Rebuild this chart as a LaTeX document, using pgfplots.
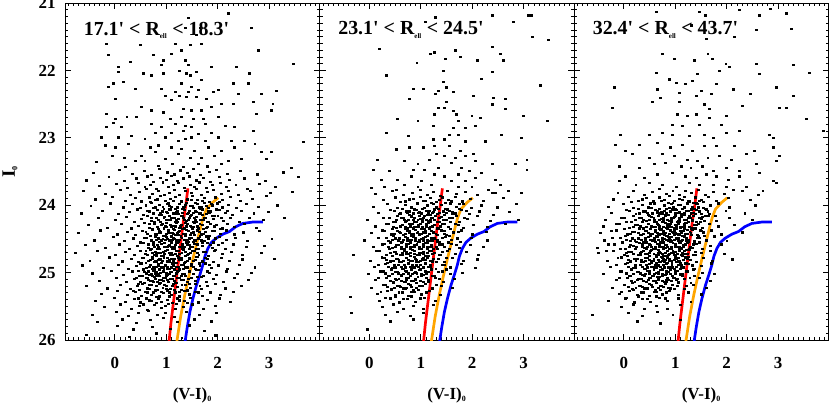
\documentclass[border=0pt]{standalone}
\usepackage{pgfplots}
\pgfplotsset{compat=1.18}
\usepackage{fontspec}
\setmainfont{Liberation Serif}
\definecolor{isored}{RGB}{255,0,0}
\definecolor{isoorange}{RGB}{255,165,0}
\definecolor{isoblue}{RGB}{0,0,255}
\pgfplotsset{
  cmdpanel/.style={
    scale only axis, width=254.5bp, height=337bp, anchor=south west,
    xmin=-0.97, xmax=3.98, ymin=21, ymax=26, y dir=reverse,
    xtick={-1,0,1,2,3,4}, ytick={21,22,23,24,25,26},
    minor x tick num=9, minor y tick num=9,
    major tick length=6bp, minor tick length=3bp,
    tick align=inside, tick pos=both,
    axis line style={line width=0.9bp},
    tick style={black, line width=0.9bp},
    minor tick style={black, line width=0.8bp},
    /pgf/number format/assume math mode=true,
    tick label style={font=\fontsize{17}{17}\selectfont\bfseries},
    xticklabel style={yshift=-14bp},
    yticklabel style={xshift=-6bp},
    xlabel={(V-I)\textsubscript{\fontsize{8}{8}\selectfont 0}},
    xlabel style={at={(axis description cs:0.5,-0.163)}, anchor=center, font=\fontsize{17}{17}\selectfont\bfseries},
    clip=true,
  },
  dots/.style={only marks, mark=square*, mark size=0.75bp, mark options={draw=none, fill=black, xscale=1.3, yscale=0.8}},
  iso/.style={no marks, line width=2.7bp},
}
\newcommand{\isolines}{%
  \addplot[iso, isored] coordinates {(1.42,23.75) (1.38,24.0) (1.33,24.25) (1.29,24.5) (1.25,24.75) (1.21,25.0) (1.17,25.25) (1.13,25.5) (1.09,25.75) (1.05,26.05)};
  \addplot[iso, isoorange] coordinates {(2.01,23.89) (1.90,23.96) (1.78,24.06) (1.72,24.18) (1.68,24.29) (1.60,24.54) (1.52,24.79) (1.44,25.05) (1.36,25.33) (1.28,25.65) (1.20,26.05)};
  \addplot[iso, isoblue] coordinates {(2.88,24.25) (2.68,24.25) (2.49,24.27) (2.35,24.32) (2.23,24.39) (2.10,24.43) (1.97,24.49) (1.88,24.55) (1.81,24.64) (1.75,24.76) (1.71,24.89) (1.65,25.04) (1.59,25.18) (1.52,25.38) (1.46,25.58) (1.41,25.80) (1.36,26.05)};
}
\newcommand{\pr}{\textquotesingle}
\begin{document}
\begin{tikzpicture}
\path[use as bounding box] (0,0) rectangle (830bp,409bp);
% ---------------- Panel 1 ----------------
\begin{axis}[cmdpanel, at={(65bp,69bp)},
  ylabel={I\textsubscript{\fontsize{8}{8}\selectfont 0}},
  ylabel style={at={(axis description cs:-0.216,0.5)}, rotate=0, anchor=center, font=\fontsize{19}{19}\selectfont\bfseries}]
\addplot[dots] coordinates {
(2.20,21.15) (1.42,21.22) (2.65,21.37) (1.36,21.37) (1.65,21.37) (1.59,21.47) (-0.16,21.60) (0.49,21.62) (1.17,21.60) (1.68,21.60)
(1.46,21.62) (1.29,21.70) (1.10,21.75) (-0.13,21.77) (0.74,21.77) (2.78,21.70) (0.94,21.85) (0.91,21.92) (1.36,21.85) (0.29,21.87)
(0.06,21.95) (1.88,21.95) (2.36,21.94) (3.46,21.90) (0.06,22.02) (1.42,21.92) (1.26,22.00) (1.39,22.04) (1.46,22.07) (1.59,22.02)
(0.71,22.07) (0.94,22.04) (0.55,22.04) (1.68,22.14) (1.29,22.19) (-0.03,22.19) (0.16,22.17) (2.62,22.04) (2.59,22.19) (2.30,22.19)
(-0.13,22.24) (0.39,22.27) (0.91,22.27) (1.49,22.24) (1.42,22.32) (1.62,22.29) (1.17,22.32) (1.91,22.32) (2.01,22.29) (2.39,22.34)
(2.85,22.34) (3.14,22.30) (0.97,22.37) (1.26,22.37) (1.39,22.39) (0.00,22.42) (1.10,22.44) (1.59,22.39) (1.78,22.42) (2.30,22.49)
(2.69,22.47) (3.07,22.49) (3.04,22.59) (-0.16,22.64) (0.23,22.69) (0.52,22.54) (0.71,22.59) (0.94,22.62) (1.33,22.57) (1.49,22.59)
(1.68,22.59) (1.88,22.54) (2.07,22.49) (0.00,22.72) (0.42,22.69) (1.07,22.72) (1.29,22.69) (1.52,22.72) (1.72,22.72) (2.01,22.69)
(2.75,22.64) (-0.03,22.77) (-0.16,22.84) (0.13,22.84) (0.71,22.79) (0.91,22.84) (1.17,22.79) (1.36,22.82) (1.49,22.84) (1.75,22.79)
(2.14,22.82) (2.33,22.84) (0.78,22.92) (1.10,22.92) (1.33,22.89) (1.62,22.94) (1.88,22.92) (2.69,22.89) (-0.26,22.99) (0.06,22.99)
(0.32,22.97) (0.58,23.01) (0.97,22.99) (1.23,23.04) (1.36,23.01) (1.49,22.99) (1.75,23.04) (2.01,22.99) (2.27,23.04) (2.52,23.04)
(3.66,23.06) (-0.19,23.11) (0.00,23.14) (0.26,23.09) (0.68,23.14) (0.84,23.11) (1.10,23.14) (1.29,23.16) (1.55,23.19) (1.81,23.14)
(2.07,23.19) (2.33,23.14) (2.72,23.09) (2.85,23.21) (3.04,23.21) (-0.06,23.26) (0.19,23.29) (0.52,23.26) (0.78,23.21) (0.97,23.31)
(1.23,23.24) (1.46,23.29) (1.68,23.29) (1.94,23.26) (2.20,23.34) (2.46,23.31) (2.94,23.31) (-0.36,23.36) (0.39,23.34) (0.58,23.34)
(1.62,23.39) (2.07,23.38) (3.43,23.44) (0.85,23.41) (1.12,23.38) (1.33,23.43) (1.80,23.42) (0.20,23.43)
(-0.42,23.52) (0.08,23.47) (0.33,23.53) (0.57,23.49) (0.71,23.55) (0.86,23.46) (1.02,23.51) (1.15,23.54) (1.27,23.48) (1.41,23.52) (1.52,23.46) (1.66,23.55) (1.83,23.50) (1.97,23.47) (2.18,23.53) (2.43,23.49) (2.77,23.54) (3.28,23.51)
(-0.55,23.63) (-0.12,23.58) (0.18,23.64) (0.41,23.60) (0.62,23.57) (0.75,23.65) (0.89,23.59) (0.99,23.62) (1.09,23.56) (1.21,23.64) (1.33,23.60) (1.45,23.57) (1.58,23.63) (1.71,23.59) (1.86,23.65) (2.03,23.58) (2.22,23.62) (2.51,23.60) (2.92,23.64) (3.56,23.58)
(-0.31,23.71) (0.02,23.68) (0.24,23.74) (0.45,23.67) (0.58,23.72) (0.69,23.69) (0.81,23.75) (0.93,23.66) (1.04,23.73) (1.13,23.70) (1.24,23.67) (1.35,23.74) (1.47,23.69) (1.55,23.72) (1.64,23.66) (1.77,23.74) (1.90,23.70) (2.04,23.67) (2.17,23.73) (2.35,23.69) (2.58,23.75) (2.81,23.68) (3.12,23.72)
(-0.62,23.79) (-0.18,23.83) (0.11,23.77) (0.29,23.84) (0.48,23.80) (0.61,23.76) (0.73,23.83) (0.84,23.78) (0.96,23.85) (1.06,23.81) (1.16,23.77) (1.26,23.84) (1.37,23.79) (1.49,23.82) (1.59,23.76) (1.68,23.85) (1.79,23.80) (1.92,23.77) (2.06,23.83) (2.21,23.79) (2.39,23.84) (2.64,23.78) (3.02,23.82) (3.45,23.80)
(-0.38,23.91) (-0.05,23.87) (0.21,23.93) (0.39,23.89) (0.52,23.94) (0.66,23.88) (0.78,23.92) (0.88,23.86) (0.98,23.93) (1.07,23.90) (1.18,23.87) (1.29,23.94) (1.40,23.91) (1.51,23.86) (1.61,23.92) (1.73,23.89) (1.84,23.95) (1.95,23.88) (2.08,23.92) (2.25,23.87) (2.44,23.93) (2.68,23.90) (2.95,23.86)
(-0.47,24.01) (-0.09,23.97) (0.17,24.03) (0.34,23.98) (0.49,24.04) (0.60,24.00) (0.70,23.96) (0.79,24.03) (0.87,23.99) (0.95,24.05) (1.03,23.97) (1.10,24.02) (1.17,24.05) (1.25,23.98) (1.32,24.03) (1.39,23.96) (1.46,24.01) (1.53,24.04) (1.60,23.98) (1.67,24.02) (1.74,23.96) (1.82,24.04) (1.90,24.00) (1.99,23.97) (2.09,24.03) (2.21,23.99) (2.36,24.04) (2.55,23.98) (2.79,24.02) (3.15,24.00)
(-0.66,24.12) (-0.25,24.08) (0.06,24.13) (0.27,24.10) (0.44,24.06) (0.56,24.14) (0.66,24.09) (0.74,24.12) (0.83,24.07) (0.91,24.14) (0.99,24.10) (1.06,24.06) (1.13,24.12) (1.21,24.09) (1.28,24.15) (1.35,24.07) (1.42,24.11) (1.49,24.14) (1.56,24.08) (1.63,24.12) (1.70,24.06) (1.78,24.13) (1.86,24.09) (1.94,24.15) (2.03,24.07) (2.14,24.11) (2.28,24.14) (2.46,24.08) (2.70,24.12) (2.98,24.10)
(-0.33,24.18) (0.00,24.22) (0.22,24.17) (0.38,24.24) (0.51,24.20) (0.62,24.16) (0.71,24.23) (0.80,24.19) (0.88,24.25) (0.96,24.17) (1.03,24.22) (1.10,24.18) (1.17,24.24) (1.24,24.20) (1.31,24.16) (1.38,24.23) (1.45,24.19) (1.52,24.25) (1.59,24.17) (1.66,24.22) (1.74,24.18) (1.82,24.24) (1.91,24.20) (2.00,24.16) (2.11,24.23) (2.24,24.19) (2.41,24.24) (2.62,24.18) (2.88,24.21) (3.30,24.19)
(-0.52,24.29) (-0.14,24.33) (0.13,24.27) (0.31,24.34) (0.46,24.30) (0.57,24.26) (0.67,24.33) (0.76,24.28) (0.84,24.35) (0.92,24.27) (1.00,24.32) (1.07,24.29) (1.14,24.35) (1.20,24.26) (1.27,24.31) (1.34,24.34) (1.41,24.28) (1.48,24.32) (1.55,24.26) (1.62,24.34) (1.69,24.29) (1.77,24.33) (1.85,24.27) (1.94,24.31) (2.05,24.35) (2.18,24.28) (2.33,24.32) (2.52,24.27) (2.75,24.33)
(-0.71,24.41) (-0.28,24.37) (0.04,24.43) (0.24,24.39) (0.40,24.44) (0.53,24.38) (0.63,24.42) (0.72,24.36) (0.81,24.43) (0.89,24.40) (0.97,24.45) (1.04,24.37) (1.11,24.41) (1.18,24.44) (1.25,24.38) (1.32,24.42) (1.39,24.36) (1.46,24.44) (1.53,24.40) (1.60,24.37) (1.67,24.43) (1.75,24.39) (1.84,24.45) (1.93,24.38) (2.04,24.42) (2.17,24.37) (2.32,24.43) (2.50,24.40) (2.80,24.38)
(-0.40,24.52) (-0.03,24.47) (0.19,24.53) (0.36,24.49) (0.50,24.55) (0.61,24.48) (0.70,24.52) (0.78,24.46) (0.86,24.54) (0.93,24.50) (1.00,24.47) (1.07,24.53) (1.14,24.49) (1.21,24.55) (1.28,24.46) (1.35,24.51) (1.42,24.54) (1.49,24.48) (1.57,24.52) (1.65,24.46) (1.73,24.53) (1.82,24.49) (1.92,24.55) (2.03,24.47) (2.16,24.51) (2.34,24.48) (2.58,24.53) (3.05,24.50)
(-0.58,24.59) (-0.19,24.63) (0.09,24.58) (0.28,24.64) (0.43,24.60) (0.55,24.56) (0.65,24.63) (0.74,24.58) (0.82,24.65) (0.90,24.57) (0.98,24.62) (1.05,24.59) (1.12,24.64) (1.19,24.56) (1.26,24.61) (1.33,24.65) (1.40,24.58) (1.47,24.62) (1.54,24.57) (1.62,24.64) (1.70,24.60) (1.79,24.56) (1.89,24.63) (2.01,24.59) (2.15,24.64) (2.31,24.58) (2.55,24.62) (2.90,24.60)
(-0.77,24.71) (-0.35,24.67) (0.00,24.73) (0.21,24.69) (0.37,24.74) (0.49,24.68) (0.59,24.72) (0.68,24.66) (0.76,24.73) (0.84,24.70) (0.91,24.75) (0.98,24.67) (1.05,24.71) (1.12,24.74) (1.19,24.68) (1.26,24.72) (1.33,24.66) (1.40,24.74) (1.47,24.70) (1.55,24.67) (1.63,24.73) (1.72,24.69) (1.82,24.75) (1.94,24.68) (2.08,24.72) (2.26,24.69) (2.48,24.74) (2.85,24.71)
(-0.49,24.82) (-0.11,24.77) (0.14,24.83) (0.32,24.79) (0.46,24.84) (0.56,24.78) (0.65,24.82) (0.73,24.76) (0.81,24.84) (0.88,24.80) (0.95,24.77) (1.02,24.83) (1.09,24.79) (1.16,24.85) (1.23,24.77) (1.30,24.81) (1.37,24.84) (1.44,24.78) (1.52,24.82) (1.60,24.76) (1.69,24.83) (1.79,24.79) (1.91,24.84) (2.06,24.78) (2.23,24.82) (2.47,24.80) (3.10,24.79)
(-0.64,24.89) (-0.22,24.93) (0.07,24.88) (0.26,24.94) (0.41,24.90) (0.52,24.86) (0.61,24.93) (0.69,24.88) (0.77,24.95) (0.84,24.87) (0.91,24.92) (0.98,24.89) (1.05,24.94) (1.12,24.86) (1.19,24.91) (1.26,24.95) (1.33,24.88) (1.40,24.92) (1.48,24.87) (1.56,24.94) (1.65,24.90) (1.75,24.86) (1.87,24.93) (2.01,24.89) (2.19,24.94) (2.42,24.88) (2.72,24.92)
(-0.45,25.01) (-0.07,24.97) (0.17,25.03) (0.34,24.98) (0.47,25.04) (0.57,24.99) (0.66,25.03) (0.74,24.97) (0.81,25.05) (0.88,25.00) (0.95,24.96) (1.02,25.03) (1.09,24.99) (1.16,25.05) (1.23,24.97) (1.30,25.02) (1.37,25.04) (1.45,24.98) (1.53,25.02) (1.62,24.96) (1.72,25.04) (1.84,25.00) (1.98,25.03) (2.16,24.98) (2.38,25.02) (2.65,25.00)
(-0.30,25.12) (0.02,25.07) (0.22,25.13) (0.38,25.09) (0.50,25.14) (0.60,25.08) (0.68,25.12) (0.76,25.06) (0.83,25.14) (0.90,25.10) (0.97,25.07) (1.04,25.13) (1.11,25.09) (1.18,25.15) (1.25,25.07) (1.32,25.11) (1.40,25.14) (1.48,25.08) (1.57,25.12) (1.67,25.06) (1.78,25.13) (1.92,25.09) (2.10,25.14) (2.32,25.08) (2.60,25.11)
(-0.55,25.19) (-0.14,25.23) (0.11,25.18) (0.29,25.24) (0.43,25.20) (0.54,25.16) (0.63,25.23) (0.71,25.18) (0.79,25.25) (0.86,25.17) (0.93,25.22) (1.00,25.19) (1.07,25.24) (1.14,25.16) (1.21,25.21) (1.29,25.25) (1.37,25.18) (1.46,25.22) (1.56,25.17) (1.67,25.24) (1.80,25.20) (1.96,25.16) (2.15,25.23) (2.45,25.19)
(-0.26,25.31) (0.05,25.27) (0.24,25.33) (0.40,25.28) (0.52,25.34) (0.62,25.29) (0.70,25.33) (0.78,25.27) (0.86,25.35) (0.94,25.30) (1.02,25.26) (1.10,25.33) (1.18,25.29) (1.26,25.35) (1.35,25.27) (1.45,25.32) (1.56,25.28) (1.69,25.34) (1.85,25.29) (2.05,25.33) (2.30,25.28)
(-0.38,25.42) (-0.02,25.37) (0.20,25.43) (0.37,25.39) (0.50,25.44) (0.61,25.38) (0.71,25.42) (0.81,25.36) (0.91,25.43) (1.01,25.40) (1.11,25.45) (1.22,25.38) (1.34,25.42) (1.47,25.37) (1.62,25.44) (1.80,25.40) (2.02,25.38) (2.25,25.43)
(-0.21,25.51) (0.10,25.47) (0.31,25.53) (0.48,25.49) (0.63,25.55) (0.77,25.48) (0.90,25.52) (1.03,25.46) (1.17,25.54) (1.32,25.50) (1.50,25.47) (1.71,25.53) (1.95,25.49)
(-0.44,25.62) (0.03,25.58) (0.26,25.64) (0.45,25.60) (0.64,25.57) (0.82,25.63) (0.98,25.59) (1.16,25.65) (1.38,25.58) (1.64,25.62) (1.97,25.60)
(-0.35,25.73) (0.15,25.69) (0.42,25.74) (0.69,25.70) (0.94,25.67) (1.22,25.73) (1.55,25.69) (1.88,25.72)
(0.05,25.79) (0.36,25.84) (0.72,25.80) (1.08,25.83) (1.45,25.78) (1.74,25.86)
(-0.55,25.92) (0.28,25.95) (0.80,25.90) (1.30,25.97) (1.95,25.93)
};
\addplot[dots] coordinates {
(0.68,23.95) (0.83,23.91) (1.01,23.98) (1.14,23.93) (1.36,23.99) (1.48,23.92) (1.57,23.96) (1.70,23.93) (1.87,23.98) (2.02,23.95)
(0.63,24.08) (0.75,24.04) (0.92,24.09) (1.08,24.06) (1.19,24.10) (1.30,24.05) (1.44,24.08) (1.58,24.10) (1.66,24.05) (1.81,24.09) (1.97,24.06) (2.18,24.08)
(0.70,24.18) (0.86,24.14) (0.95,24.19) (1.05,24.15) (1.16,24.19) (1.24,24.13) (1.33,24.18) (1.47,24.15) (1.55,24.19) (1.69,24.14) (1.76,24.18) (1.90,24.15) (2.07,24.19)
(0.66,24.28) (0.77,24.24) (0.90,24.29) (1.00,24.26) (1.12,24.30) (1.21,24.25) (1.29,24.29) (1.37,24.26) (1.46,24.30) (1.58,24.24) (1.65,24.28) (1.80,24.25) (1.97,24.29)
(0.60,24.39) (0.73,24.35) (0.86,24.38) (0.95,24.34) (1.03,24.40) (1.16,24.36) (1.23,24.39) (1.30,24.35) (1.43,24.38) (1.51,24.34) (1.64,24.39) (1.72,24.35) (1.89,24.38) (2.09,24.34)
(0.57,24.48) (0.69,24.45) (0.84,24.49) (0.93,24.45) (1.01,24.50) (1.09,24.46) (1.16,24.50) (1.23,24.44) (1.30,24.48) (1.37,24.45) (1.44,24.49) (1.55,24.44) (1.62,24.49) (1.78,24.46) (1.96,24.49)
(0.64,24.58) (0.74,24.55) (0.82,24.59) (0.96,24.56) (1.03,24.60) (1.10,24.55) (1.17,24.59) (1.24,24.54) (1.31,24.58) (1.38,24.55) (1.45,24.59) (1.52,24.54) (1.60,24.58) (1.69,24.55) (1.86,24.59) (2.09,24.56)
(0.60,24.68) (0.71,24.64) (0.79,24.69) (0.87,24.65) (0.94,24.69) (1.02,24.66) (1.08,24.70) (1.16,24.65) (1.23,24.68) (1.30,24.64) (1.37,24.69) (1.44,24.65) (1.51,24.68) (1.59,24.65) (1.75,24.69) (1.95,24.66)
(0.54,24.78) (0.63,24.74) (0.72,24.79) (0.80,24.75) (0.87,24.79) (0.95,24.73) (1.02,24.78) (1.08,24.74) (1.15,24.79) (1.22,24.75) (1.29,24.78) (1.36,24.75) (1.44,24.79) (1.58,24.76) (1.76,24.78)
(0.49,24.87) (0.60,24.85) (0.68,24.88) (0.76,24.84) (0.84,24.89) (0.91,24.85) (0.98,24.88) (1.05,24.84) (1.13,24.89) (1.20,24.85) (1.28,24.88) (1.35,24.85) (1.48,24.89) (1.64,24.86) (1.84,24.88)
(0.45,24.97) (0.55,24.95) (0.64,24.98) (0.72,24.94) (0.80,24.99) (0.87,24.95) (0.94,24.98) (1.01,24.94) (1.08,24.99) (1.15,24.95) (1.22,24.98) (1.32,24.94) (1.44,24.99) (1.58,24.96) (1.79,24.98)
(0.42,25.07) (0.53,25.05) (0.63,25.08) (0.72,25.04) (0.79,25.09) (0.86,25.05) (0.93,25.08) (1.00,25.04) (1.07,25.09) (1.14,25.05) (1.21,25.08) (1.29,25.05) (1.42,25.09) (1.60,25.06)
(0.46,25.17) (0.57,25.15) (0.66,25.18) (0.74,25.14) (0.81,25.19) (0.89,25.15) (0.96,25.18) (1.03,25.14) (1.11,25.19) (1.19,25.15) (1.30,25.18) (1.44,25.16) (1.65,25.19)
(0.35,25.27) (0.48,25.25) (0.58,25.28) (0.67,25.24) (0.75,25.29) (0.83,25.25) (0.91,25.28) (0.99,25.24) (1.06,25.29) (1.15,25.25) (1.25,25.28) (1.40,25.26) (1.62,25.29)
(0.45,25.38) (0.66,25.41) (0.85,25.39) (1.05,25.35) (1.25,25.41) (0.55,25.47) (0.80,25.45) (0.97,25.49) (1.20,25.46) (1.40,25.45)
};
\addplot[dots] coordinates {
(0.93,24.02) (1.05,24.01) (1.21,24.03) (1.35,24.02) (1.50,24.01) (1.63,24.03) (1.78,24.01)
(0.89,24.12) (1.01,24.11) (1.18,24.12) (1.31,24.11) (1.40,24.13) (1.52,24.11) (1.66,24.12) (1.83,24.11)
(0.85,24.21) (0.99,24.22) (1.07,24.21) (1.20,24.22) (1.35,24.21) (1.42,24.22) (1.56,24.21) (1.71,24.22)
(0.82,24.32) (0.97,24.31) (1.10,24.32) (1.18,24.31) (1.25,24.33) (1.39,24.31) (1.52,24.32) (1.60,24.31) (1.80,24.32)
(0.78,24.42) (0.87,24.41) (0.99,24.42) (1.07,24.41) (1.14,24.42) (1.21,24.41) (1.36,24.42) (1.49,24.41) (1.71,24.42)
(0.80,24.51) (0.90,24.52) (0.98,24.51) (1.05,24.52) (1.12,24.51) (1.19,24.52) (1.26,24.51) (1.40,24.52) (1.54,24.51) (1.67,24.52)
(0.77,24.61) (0.85,24.62) (0.95,24.61) (1.01,24.62) (1.09,24.61) (1.16,24.62) (1.29,24.61) (1.35,24.62) (1.50,24.61)
(0.73,24.71) (0.81,24.72) (0.88,24.71) (0.96,24.72) (1.09,24.71) (1.17,24.72) (1.30,24.71) (1.43,24.72) (1.60,24.71)
(0.69,24.81) (0.78,24.82) (0.85,24.81) (0.92,24.82) (1.06,24.81) (1.13,24.82) (1.26,24.81) (1.40,24.82) (1.56,24.81)
(0.66,24.91) (0.74,24.92) (0.81,24.91) (0.95,24.92) (1.02,24.91) (1.09,24.92) (1.23,24.91) (1.37,24.92) (1.52,24.91)
(0.61,25.01) (0.70,25.02) (0.78,25.01) (0.85,25.02) (0.99,25.01) (1.06,25.02) (1.20,25.01) (1.34,25.02)
(0.64,25.11) (0.72,25.12) (0.87,25.11) (0.94,25.12) (1.01,25.11) (1.15,25.12) (1.29,25.11)
};
\isolines
\node[anchor=west, font=\fontsize{20}{20}\selectfont\bfseries] at (axis description cs:0.06,0.92) {17.1\pr{} < R\textsubscript{\fontsize{7}{7}\selectfont ell} < 18.3\pr};
\end{axis}
% ---------------- Panel 2 ----------------
\begin{axis}[cmdpanel, at={(319.5bp,69bp)}, yticklabels={}]
\addplot[dots] coordinates {
(1.28,21.21) (1.08,21.28) (2.38,21.18) (3.09,21.18) (3.14,21.18) (2.80,21.28) (3.16,21.50) (3.48,21.55) (0.20,21.68) (1.18,21.75)
(1.27,21.73) (1.67,21.70) (1.76,21.80) (2.09,21.85) (2.38,21.65) (2.55,21.75) (2.61,21.85) (0.92,21.88) (1.47,21.83) (1.44,22.00)
(0.33,22.07) (2.38,22.02) (2.18,22.12) (1.44,22.17) (1.50,22.25) (3.33,22.22) (0.85,22.27) (1.05,22.27) (1.28,22.35) (1.34,22.30)
(1.63,22.32) (0.78,22.42) (2.02,22.37) (2.41,22.40) (2.64,22.42)
(1.50,22.47) (1.33,22.55) (1.46,22.55) (1.63,22.60) (1.69,22.65) (1.27,22.65) (1.99,22.67) (0.55,22.72) (0.94,22.75) (1.73,22.75)
(2.15,22.70) (2.64,22.57) (2.99,22.67) (2.38,22.50) (3.45,22.75) (1.24,22.82) (1.63,22.85) (1.86,22.85) (2.05,22.82) (1.56,22.95)
(1.73,22.95) (2.57,22.95) (2.96,23.00) (0.33,22.92) (0.75,22.97) (1.24,23.02) (1.46,23.02) (1.86,23.05) (2.25,23.05) (1.27,23.12)
(1.04,23.14) (1.56,23.12) (0.52,23.17) (0.78,23.14) (1.76,23.19) (2.02,23.24) (1.30,23.24) (1.46,23.27) (1.66,23.29) (1.86,23.27)
(1.17,23.32) (3.06,23.32) (0.16,23.32) (0.68,23.34) (0.94,23.39) (1.60,23.37) (2.05,23.34) (2.38,23.39) (2.83,23.39) (0.07,23.47)
(0.39,23.49) (0.85,23.47) (1.07,23.47) (1.33,23.44) (1.79,23.44) (1.95,23.49) (2.18,23.52) (3.06,23.47) (1.27,23.54) (1.46,23.57)
(1.73,23.54) (0.81,23.57) (0.55,23.62) (0.23,23.62) (1.01,23.64) (1.60,23.64) (1.86,23.64) (2.05,23.59) (2.44,23.62) (2.54,23.69)
(0.03,23.74) (0.29,23.72) (0.68,23.69) (0.94,23.72) (1.20,23.69) (1.73,23.72) (1.99,23.72) (2.31,23.77) (2.38,23.82) (2.70,23.79)
(2.96,23.82) (0.52,23.77)
(0.12,23.83) (0.45,23.79) (0.66,23.85) (0.84,23.81) (0.99,23.77) (1.12,23.84) (1.25,23.80) (1.38,23.86) (1.52,23.78) (1.68,23.83) (1.86,23.80) (2.10,23.85) (2.45,23.81)
(0.26,23.92) (0.51,23.88) (0.70,23.94) (0.86,23.90) (0.98,23.87) (1.09,23.93) (1.19,23.89) (1.30,23.95) (1.41,23.88) (1.53,23.92) (1.66,23.87) (1.80,23.94) (1.97,23.90) (2.22,23.93) (2.60,23.89)
(0.08,24.02) (0.35,23.98) (0.55,24.04) (0.70,23.99) (0.82,24.03) (0.93,23.97) (1.03,24.05) (1.12,24.00) (1.21,23.96) (1.30,24.03) (1.39,23.99) (1.48,24.05) (1.58,23.97) (1.69,24.02) (1.82,23.98) (1.98,24.04) (2.18,24.00) (2.48,24.03) (2.85,23.98)
(0.18,24.11) (0.41,24.07) (0.58,24.13) (0.71,24.09) (0.82,24.15) (0.92,24.07) (1.01,24.12) (1.10,24.08) (1.18,24.14) (1.27,24.06) (1.36,24.11) (1.45,24.14) (1.55,24.08) (1.66,24.12) (1.79,24.07) (1.95,24.13) (2.14,24.09) (2.40,24.14) (2.72,24.10)
(-0.05,24.22) (0.27,24.18) (0.47,24.24) (0.61,24.19) (0.72,24.23) (0.82,24.17) (0.91,24.25) (0.99,24.20) (1.07,24.16) (1.15,24.23) (1.23,24.19) (1.31,24.25) (1.40,24.17) (1.50,24.22) (1.61,24.18) (1.74,24.24) (1.90,24.20) (2.10,24.16) (2.35,24.23) (2.90,24.21)
(0.11,24.31) (0.36,24.27) (0.52,24.33) (0.64,24.29) (0.74,24.34) (0.83,24.27) (0.91,24.32) (0.99,24.28) (1.07,24.35) (1.15,24.26) (1.23,24.31) (1.32,24.34) (1.42,24.28) (1.53,24.32) (1.66,24.27) (1.82,24.33) (2.02,24.29) (2.30,24.32) (2.65,24.28)
(0.03,24.41) (0.25,24.37) (0.42,24.43) (0.55,24.38) (0.65,24.44) (0.74,24.37) (0.82,24.42) (0.89,24.36) (0.97,24.43) (1.04,24.40) (1.12,24.45) (1.20,24.38) (1.29,24.42) (1.39,24.37) (1.50,24.44) (1.63,24.40) (1.79,24.37) (2.00,24.43) (2.28,24.39)
(-0.10,24.52) (0.18,24.48) (0.37,24.53) (0.51,24.49) (0.61,24.55) (0.70,24.47) (0.78,24.52) (0.86,24.46) (0.94,24.54) (1.01,24.50) (1.09,24.47) (1.17,24.53) (1.26,24.49) (1.36,24.55) (1.47,24.47) (1.60,24.51) (1.76,24.54) (1.98,24.48) (2.30,24.52)
(0.07,24.61) (0.29,24.57) (0.45,24.63) (0.57,24.59) (0.67,24.64) (0.76,24.57) (0.84,24.62) (0.92,24.58) (1.00,24.65) (1.08,24.56) (1.16,24.61) (1.25,24.64) (1.35,24.58) (1.46,24.62) (1.59,24.57) (1.75,24.63) (1.96,24.59) (2.22,24.62)
(-0.32,24.74) (0.13,24.67) (0.33,24.73) (0.48,24.69) (0.59,24.74) (0.68,24.68) (0.76,24.72) (0.84,24.66) (0.92,24.73) (1.00,24.70) (1.08,24.75) (1.17,24.67) (1.27,24.71) (1.38,24.74) (1.51,24.68) (1.67,24.72) (1.88,24.69) (2.12,24.73)
(0.02,24.82) (0.24,24.77) (0.40,24.83) (0.52,24.79) (0.62,24.84) (0.71,24.78) (0.79,24.82) (0.87,24.76) (0.95,24.84) (1.03,24.80) (1.12,24.77) (1.22,24.83) (1.33,24.79) (1.46,24.84) (1.62,24.78) (1.82,24.82) (2.10,24.80)
(0.09,24.91) (0.30,24.87) (0.45,24.93) (0.56,24.88) (0.66,24.94) (0.75,24.87) (0.83,24.92) (0.91,24.89) (0.99,24.95) (1.08,24.86) (1.18,24.91) (1.29,24.94) (1.42,24.88) (1.58,24.92) (1.78,24.87) (2.05,24.93)
(-0.02,25.02) (0.21,24.98) (0.38,25.04) (0.50,24.99) (0.61,25.03) (0.70,24.97) (0.79,25.05) (0.87,25.00) (0.96,24.96) (1.05,25.03) (1.15,24.99) (1.27,25.04) (1.41,24.98) (1.58,25.02) (1.80,25.00)
(0.12,25.11) (0.32,25.07) (0.46,25.13) (0.57,25.09) (0.67,25.14) (0.76,25.08) (0.85,25.12) (0.94,25.06) (1.04,25.14) (1.15,25.10) (1.28,25.07) (1.44,25.13) (1.65,25.09)
(0.04,25.22) (0.26,25.18) (0.42,25.24) (0.54,25.19) (0.65,25.23) (0.75,25.17) (0.85,25.25) (0.96,25.20) (1.08,25.16) (1.22,25.23) (1.40,25.19) (1.62,25.22)
(0.16,25.31) (0.35,25.27) (0.50,25.33) (0.63,25.29) (0.75,25.34) (0.88,25.28) (1.01,25.32) (1.17,25.27) (1.38,25.33)
(-0.38,25.36) (0.20,25.42) (0.41,25.38) (0.58,25.44) (0.73,25.39) (0.89,25.43) (1.06,25.37) (1.28,25.42)
(0.25,25.51) (0.47,25.47) (0.66,25.53) (0.85,25.49) (1.04,25.54) (1.25,25.48)
(-0.35,25.59) (0.30,25.62) (0.55,25.58) (0.79,25.64) (1.05,25.60)
(0.40,25.72) (0.85,25.69) (-0.05,25.84)
};
\addplot[dots] coordinates {
(0.60,23.95) (0.78,23.91) (0.92,23.97) (1.04,23.93) (1.25,23.98) (1.36,23.92) (1.47,23.96) (1.60,23.94) (1.74,23.98)
(0.48,24.08) (0.64,24.05) (0.77,24.09) (0.88,24.06) (0.97,24.10) (1.07,24.04) (1.16,24.08) (1.25,24.10) (1.34,24.05) (1.43,24.09) (1.52,24.06) (1.62,24.10) (1.74,24.05) (1.88,24.08)
(0.39,24.18) (0.54,24.15) (0.66,24.19) (0.77,24.14) (0.87,24.18) (0.96,24.15) (1.04,24.19) (1.12,24.14) (1.20,24.18) (1.28,24.15) (1.36,24.19) (1.45,24.14) (1.56,24.18) (1.69,24.15) (1.84,24.19)
(0.32,24.28) (0.50,24.25) (0.63,24.29) (0.70,24.24) (0.78,24.28) (0.87,24.25) (0.95,24.29) (1.03,24.24) (1.11,24.28) (1.19,24.25) (1.27,24.29) (1.36,24.24) (1.46,24.28) (1.58,24.25) (1.73,24.29)
(0.28,24.38) (0.44,24.35) (0.58,24.39) (0.69,24.35) (0.78,24.38) (0.86,24.34) (0.94,24.39) (1.01,24.35) (1.09,24.38) (1.16,24.34) (1.24,24.39) (1.34,24.35) (1.45,24.38) (1.57,24.35) (1.72,24.39)
(0.33,24.48) (0.46,24.45) (0.58,24.49) (0.66,24.44) (0.74,24.48) (0.82,24.45) (0.90,24.49) (0.97,24.44) (1.05,24.48) (1.13,24.45) (1.21,24.49) (1.31,24.44) (1.42,24.48) (1.55,24.45) (1.70,24.49)
(0.25,24.58) (0.41,24.55) (0.53,24.59) (0.63,24.54) (0.72,24.58) (0.80,24.55) (0.88,24.59) (0.96,24.54) (1.04,24.58) (1.12,24.55) (1.21,24.59) (1.31,24.54) (1.41,24.58) (1.53,24.55) (1.68,24.59)
(0.20,24.68) (0.38,24.64) (0.51,24.69) (0.62,24.65) (0.71,24.69) (0.80,24.64) (0.88,24.68) (0.96,24.65) (1.04,24.69) (1.12,24.64) (1.21,24.68) (1.31,24.65) (1.42,24.69) (1.56,24.65)
(0.29,24.78) (0.44,24.75) (0.55,24.79) (0.64,24.74) (0.72,24.78) (0.80,24.75) (0.89,24.79) (0.97,24.74) (1.05,24.78) (1.14,24.75) (1.24,24.79) (1.35,24.74) (1.50,24.78)
(0.17,24.88) (0.35,24.85) (0.48,24.89) (0.58,24.84) (0.67,24.88) (0.75,24.85) (0.83,24.89) (0.91,24.84) (0.99,24.88) (1.08,24.85) (1.18,24.89) (1.30,24.84) (1.45,24.88)
(0.26,24.98) (0.42,24.95) (0.54,24.99) (0.63,24.94) (0.72,24.98) (0.81,24.95) (0.90,24.99) (0.99,24.94) (1.09,24.98) (1.20,24.95) (1.33,24.99) (1.50,24.95)
(0.17,25.08) (0.37,25.05) (0.50,25.09) (0.61,25.04) (0.71,25.08) (0.80,25.05) (0.90,25.09) (1.00,25.04) (1.10,25.08) (1.22,25.05) (1.36,25.09)
(0.30,25.18) (0.47,25.15) (0.59,25.19) (0.70,25.14) (0.80,25.18) (0.91,25.15) (1.02,25.19) (1.14,25.14) (1.30,25.18)
(0.22,25.28) (0.42,25.25) (0.57,25.29) (0.69,25.24) (0.82,25.28) (0.95,25.25) (1.10,25.29) (0.30,25.37) (0.50,25.35) (0.66,25.39) (0.82,25.35) (0.98,25.38)
};
\addplot[dots] coordinates {
(0.60,24.12) (0.73,24.11) (0.86,24.12) (0.95,24.11) (1.14,24.12) (1.22,24.11) (1.32,24.13) (1.49,24.11) (1.61,24.12)
(0.53,24.21) (0.68,24.22) (0.76,24.21) (0.86,24.22) (0.94,24.21) (1.03,24.22) (1.11,24.21) (1.19,24.22) (1.27,24.21) (1.44,24.22)
(0.46,24.32) (0.60,24.31) (0.69,24.32) (0.79,24.31) (0.87,24.32) (0.95,24.31) (1.03,24.32) (1.11,24.31) (1.19,24.32) (1.37,24.31)
(0.49,24.42) (0.60,24.41) (0.70,24.42) (0.78,24.41) (0.85,24.42) (0.93,24.41) (1.00,24.42) (1.08,24.41) (1.16,24.42) (1.25,24.41) (1.45,24.42)
(0.44,24.51) (0.56,24.52) (0.65,24.51) (0.74,24.52) (0.82,24.51) (0.89,24.52) (0.97,24.51) (1.05,24.52) (1.13,24.51) (1.22,24.52) (1.31,24.51)
(0.37,24.61) (0.51,24.62) (0.61,24.61) (0.71,24.62) (0.80,24.61) (0.88,24.62) (0.96,24.61) (1.04,24.62) (1.12,24.61) (1.20,24.62) (1.30,24.61)
(0.40,24.71) (0.53,24.72) (0.63,24.71) (0.72,24.72) (0.80,24.71) (0.88,24.72) (0.96,24.71) (1.04,24.72) (1.12,24.71) (1.22,24.72)
(0.33,24.81) (0.46,24.82) (0.57,24.81) (0.66,24.82) (0.75,24.81) (0.83,24.82) (0.91,24.81) (0.99,24.82) (1.08,24.81) (1.18,24.82)
(0.37,24.91) (0.51,24.92) (0.61,24.91) (0.70,24.92) (0.79,24.91) (0.87,24.92) (0.95,24.91) (1.04,24.92) (1.14,24.91)
(0.30,25.01) (0.45,25.02) (0.56,25.01) (0.66,25.02) (0.75,25.01) (0.84,25.02) (0.92,25.01) (1.01,25.02) (1.11,25.01)
(0.40,25.12) (0.52,25.11) (0.62,25.12) (0.72,25.11) (0.81,25.12) (0.90,25.11) (0.99,25.12)
(0.35,25.21) (0.48,25.22) (0.60,25.21) (0.71,25.22) (0.81,25.21) (0.91,25.22)
};
\isolines
\node[anchor=west, font=\fontsize{20}{20}\selectfont\bfseries] at (axis description cs:0.06,0.92) {23.1\pr{} < R\textsubscript{\fontsize{7}{7}\selectfont ell} < 24.5\pr};
\end{axis}
% ---------------- Panel 3 ----------------
\begin{axis}[cmdpanel, at={(574bp,69bp)}, yticklabels={}]
\addplot[dots] coordinates {
(0.62,21.13) (1.47,21.13) (1.58,21.18) (2.25,21.10) (2.84,21.08) (2.64,21.18) (3.16,21.15) (1.31,21.33) (2.58,21.40) (3.25,21.38)
(1.60,21.53) (2.14,21.50) (0.75,21.75) (0.98,21.83) (1.37,21.85) (1.63,21.75) (1.72,21.83) (1.98,21.90) (2.05,21.95) (2.57,21.90)
(3.29,21.92) (-0.19,22.25) (0.62,22.03) (1.43,22.05) (1.85,22.00) (2.64,22.05) (3.61,22.03) (0.88,22.13) (1.01,22.18) (1.20,22.20)
(1.33,22.15) (1.50,22.30) (1.79,22.20) (2.12,22.28) (2.45,22.35) (2.97,22.25) (0.64,22.28) (0.71,22.40) (1.07,22.33) (1.40,22.38)
(1.69,22.35) (3.29,22.38)
(0.55,22.47) (1.07,22.47) (1.56,22.50) (1.66,22.57) (2.31,22.52) (3.03,22.55) (3.16,22.55) (-0.23,22.55) (1.04,22.65) (1.24,22.67)
(1.40,22.65) (1.66,22.70) (1.99,22.67) (0.94,22.80) (1.14,22.82) (1.46,22.80) (1.89,22.80) (3.55,22.72) (3.87,22.90) (-0.07,22.95)
(0.49,22.95) (0.75,22.92) (0.94,22.95) (1.27,22.97) (1.56,22.95) (1.73,23.00) (1.99,22.92) (2.25,22.90) (2.83,22.95) (2.90,23.00)
(-0.16,23.10) (0.03,23.19) (0.29,23.10) (0.65,23.07) (0.91,23.14) (1.14,23.10) (1.33,23.19) (1.56,23.12) (1.79,23.12) (2.15,23.12)
(2.54,23.19) (2.90,23.14) (0.16,23.24) (0.49,23.29) (0.75,23.24) (0.98,23.27) (1.24,23.32) (1.43,23.34) (1.63,23.29) (1.86,23.27)
(2.08,23.32) (2.38,23.24) (3.03,23.27) (-0.10,23.42) (0.29,23.44) (0.59,23.39) (0.81,23.37) (1.11,23.42) (1.30,23.44) (1.53,23.42)
(1.73,23.49) (1.99,23.44) (2.25,23.49) (2.57,23.39) (2.96,23.34) (0.03,23.57) (0.39,23.59) (0.65,23.54) (0.94,23.52) (1.20,23.57)
(1.40,23.59) (1.60,23.54) (1.79,23.57) (2.02,23.62) (2.25,23.57) (2.64,23.52) (2.96,23.67) (-0.10,23.64) (0.23,23.69) (0.49,23.67)
(0.75,23.69) (1.01,23.72) (1.27,23.67) (1.46,23.69) (1.73,23.69) (1.99,23.72) (2.12,23.77) (2.38,23.72) (2.70,23.79) (2.90,23.64)
(-0.12,23.82) (0.18,23.78) (0.39,23.84) (0.55,23.80) (0.69,23.76) (0.82,23.83) (0.95,23.79) (1.07,23.85) (1.19,23.78) (1.31,23.82) (1.44,23.77) (1.58,23.84) (1.74,23.80) (1.95,23.83) (2.30,23.79) (2.62,23.84)
(-0.20,23.91) (0.08,23.87) (0.28,23.93) (0.44,23.89) (0.57,23.94) (0.68,23.88) (0.78,23.92) (0.88,23.86) (0.98,23.93) (1.08,23.90) (1.18,23.87) (1.28,23.94) (1.39,23.88) (1.51,23.92) (1.64,23.87) (1.80,23.93) (2.02,23.89) (2.45,23.92)
(-0.30,24.02) (-0.02,23.98) (0.19,24.04) (0.35,23.99) (0.48,24.03) (0.59,23.97) (0.69,24.05) (0.78,24.00) (0.87,23.96) (0.96,24.03) (1.05,23.99) (1.14,24.05) (1.23,23.97) (1.33,24.02) (1.43,23.98) (1.54,24.04) (1.67,24.00) (1.83,23.97) (2.05,24.03) (2.55,24.00)
(-0.24,24.11) (0.04,24.07) (0.23,24.13) (0.38,24.09) (0.50,24.15) (0.60,24.07) (0.69,24.12) (0.78,24.08) (0.86,24.14) (0.94,24.06) (1.03,24.11) (1.12,24.14) (1.21,24.08) (1.30,24.12) (1.40,24.07) (1.51,24.13) (1.63,24.09) (1.78,24.15) (1.98,24.08) (2.35,24.12)
(-0.36,24.22) (-0.06,24.18) (0.14,24.24) (0.30,24.19) (0.43,24.23) (0.54,24.17) (0.63,24.25) (0.72,24.20) (0.80,24.16) (0.88,24.23) (0.96,24.19) (1.04,24.25) (1.12,24.17) (1.21,24.22) (1.30,24.18) (1.40,24.24) (1.51,24.20) (1.64,24.16) (1.80,24.23) (2.05,24.19) (2.50,24.22)
(-0.41,24.31) (-0.10,24.27) (0.10,24.33) (0.26,24.29) (0.38,24.34) (0.48,24.27) (0.57,24.32) (0.65,24.28) (0.73,24.35) (0.81,24.26) (0.89,24.31) (0.97,24.34) (1.05,24.28) (1.13,24.32) (1.22,24.26) (1.31,24.34) (1.41,24.29) (1.52,24.33) (1.66,24.27) (1.84,24.31) (2.15,24.29)
(-0.46,24.41) (-0.15,24.37) (0.06,24.43) (0.21,24.39) (0.33,24.44) (0.43,24.38) (0.52,24.42) (0.60,24.36) (0.68,24.43) (0.76,24.40) (0.84,24.45) (0.91,24.37) (0.99,24.41) (1.07,24.44) (1.15,24.38) (1.24,24.42) (1.33,24.36) (1.43,24.44) (1.55,24.40) (1.70,24.37) (1.90,24.43) (2.30,24.40)
(-0.38,24.52) (-0.08,24.48) (0.12,24.53) (0.27,24.49) (0.38,24.55) (0.47,24.47) (0.55,24.52) (0.63,24.46) (0.71,24.54) (0.78,24.50) (0.86,24.47) (0.93,24.53) (1.01,24.49) (1.09,24.55) (1.17,24.47) (1.26,24.51) (1.36,24.54) (1.47,24.48) (1.60,24.52) (1.76,24.46) (2.00,24.53)
(-0.52,24.63) (-0.18,24.58) (0.03,24.64) (0.18,24.60) (0.30,24.56) (0.40,24.63) (0.49,24.58) (0.57,24.65) (0.65,24.57) (0.73,24.62) (0.80,24.59) (0.88,24.64) (0.95,24.56) (1.03,24.61) (1.11,24.65) (1.20,24.58) (1.29,24.62) (1.40,24.57) (1.53,24.64) (1.68,24.60) (1.90,24.58)
(-0.50,24.71) (-0.20,24.67) (0.00,24.73) (0.15,24.69) (0.27,24.74) (0.37,24.68) (0.46,24.72) (0.54,24.66) (0.62,24.73) (0.70,24.70) (0.77,24.75) (0.85,24.67) (0.92,24.71) (1.00,24.74) (1.08,24.68) (1.17,24.72) (1.27,24.66) (1.38,24.74) (1.51,24.70) (1.67,24.67) (1.95,24.72)
(-0.33,24.82) (-0.05,24.77) (0.13,24.83) (0.26,24.79) (0.37,24.84) (0.46,24.78) (0.54,24.82) (0.62,24.76) (0.70,24.84) (0.77,24.80) (0.85,24.77) (0.93,24.83) (1.01,24.79) (1.10,24.85) (1.19,24.77) (1.29,24.81) (1.40,24.84) (1.54,24.78) (1.72,24.82) (2.10,24.80)
(-0.26,24.91) (0.02,24.87) (0.18,24.93) (0.31,24.88) (0.41,24.94) (0.50,24.87) (0.58,24.92) (0.66,24.89) (0.74,24.95) (0.82,24.86) (0.90,24.91) (0.98,24.94) (1.06,24.88) (1.15,24.92) (1.25,24.87) (1.37,24.94) (1.51,24.90) (1.70,24.86)
(-0.40,25.02) (-0.07,24.98) (0.11,25.04) (0.25,24.99) (0.36,25.03) (0.46,24.97) (0.55,25.05) (0.63,25.00) (0.71,24.96) (0.79,25.03) (0.87,24.99) (0.95,25.05) (1.04,24.97) (1.13,25.02) (1.24,24.98) (1.37,25.04) (1.53,25.00) (1.75,25.02)
(-0.15,25.11) (0.06,25.07) (0.21,25.13) (0.33,25.09) (0.43,25.14) (0.52,25.08) (0.61,25.12) (0.69,25.06) (0.78,25.14) (0.87,25.10) (0.96,25.07) (1.06,25.13) (1.17,25.09) (1.30,25.15) (1.47,25.08) (1.68,25.12)
(-0.22,25.22) (0.01,25.18) (0.16,25.24) (0.29,25.19) (0.40,25.23) (0.50,25.17) (0.60,25.25) (0.70,25.20) (0.80,25.16) (0.91,25.23) (1.03,25.19) (1.17,25.24) (1.35,25.18) (1.60,25.22)
(-0.10,25.31) (0.10,25.27) (0.25,25.33) (0.38,25.29) (0.50,25.34) (0.62,25.28) (0.75,25.32) (0.89,25.27) (1.05,25.33) (1.25,25.29) (1.50,25.32)
(-0.30,25.42) (0.03,25.38) (0.20,25.44) (0.36,25.39) (0.52,25.43) (0.68,25.37) (0.85,25.42) (1.05,25.38) (1.30,25.43)
(-0.05,25.51) (0.18,25.47) (0.40,25.53) (0.62,25.49) (0.85,25.54) (1.10,25.48)
(-0.62,25.62) (0.08,25.60) (0.35,25.64) (0.64,25.58) (0.95,25.63)
(0.25,25.72) (0.70,25.75) (1.10,25.70)
};
\addplot[dots] coordinates {
(0.15,23.95) (0.36,23.91) (0.52,23.97) (0.73,23.93) (0.92,23.98) (1.13,23.92) (1.34,23.96) (1.46,23.93)
(0.10,24.08) (0.28,24.05) (0.42,24.09) (0.54,24.04) (0.64,24.08) (0.73,24.10) (0.82,24.05) (0.91,24.09) (1.00,24.06) (1.08,24.10) (1.17,24.04) (1.26,24.08) (1.36,24.05) (1.46,24.09) (1.58,24.05)
(0.00,24.18) (0.19,24.15) (0.34,24.19) (0.47,24.14) (0.58,24.18) (0.67,24.15) (0.76,24.19) (0.84,24.14) (0.92,24.18) (1.00,24.15) (1.08,24.19) (1.17,24.14) (1.26,24.18) (1.35,24.15) (1.46,24.19) (1.58,24.15)
(-0.15,24.28) (0.05,24.25) (0.21,24.29) (0.35,24.24) (0.47,24.28) (0.58,24.25) (0.67,24.29) (0.76,24.24) (0.84,24.28) (0.92,24.25) (1.00,24.29) (1.08,24.24) (1.17,24.28) (1.26,24.25) (1.36,24.29) (1.48,24.25)
(-0.25,24.38) (0.00,24.35) (0.16,24.39) (0.30,24.34) (0.42,24.38) (0.52,24.35) (0.61,24.39) (0.69,24.34) (0.77,24.38) (0.85,24.35) (0.93,24.39) (1.01,24.34) (1.09,24.38) (1.18,24.35) (1.28,24.39) (1.38,24.34) (1.50,24.38)
(-0.22,24.48) (0.02,24.45) (0.17,24.49) (0.31,24.44) (0.42,24.48) (0.51,24.45) (0.59,24.49) (0.67,24.44) (0.75,24.48) (0.82,24.45) (0.89,24.49) (0.97,24.44) (1.05,24.48) (1.13,24.45) (1.22,24.49) (1.31,24.44) (1.42,24.48) (1.56,24.45)
(-0.30,24.58) (-0.03,24.55) (0.13,24.59) (0.24,24.54) (0.35,24.58) (0.44,24.55) (0.52,24.59) (0.60,24.54) (0.68,24.58) (0.76,24.55) (0.83,24.59) (0.91,24.54) (0.99,24.58) (1.07,24.55) (1.16,24.59) (1.25,24.54) (1.35,24.58) (1.47,24.55)
(-0.35,24.68) (-0.08,24.64) (0.08,24.69) (0.22,24.65) (0.33,24.69) (0.43,24.64) (0.52,24.68) (0.60,24.65) (0.68,24.69) (0.76,24.64) (0.84,24.68) (0.92,24.65) (1.00,24.69) (1.08,24.64) (1.17,24.68) (1.27,24.65) (1.39,24.69)
(-0.12,24.78) (0.06,24.75) (0.20,24.79) (0.31,24.74) (0.41,24.78) (0.50,24.75) (0.58,24.79) (0.66,24.74) (0.74,24.78) (0.81,24.75) (0.89,24.79) (0.97,24.74) (1.05,24.78) (1.14,24.75) (1.24,24.79) (1.35,24.74)
(-0.15,24.88) (0.07,24.85) (0.22,24.89) (0.34,24.84) (0.44,24.88) (0.53,24.85) (0.61,24.89) (0.69,24.84) (0.77,24.88) (0.85,24.85) (0.93,24.89) (1.02,24.84) (1.11,24.88) (1.21,24.85) (1.33,24.89)
(-0.05,24.98) (0.14,24.95) (0.28,24.99) (0.39,24.94) (0.49,24.98) (0.58,24.95) (0.66,24.99) (0.74,24.94) (0.83,24.98) (0.91,24.95) (1.00,24.99) (1.10,24.94) (1.21,24.98) (1.35,24.95)
(-0.10,25.08) (0.12,25.05) (0.27,25.09) (0.39,25.04) (0.49,25.08) (0.58,25.05) (0.67,25.09) (0.75,25.04) (0.84,25.08) (0.93,25.05) (1.03,25.09) (1.14,25.04) (1.28,25.08)
(0.00,25.18) (0.17,25.15) (0.31,25.19) (0.43,25.14) (0.53,25.18) (0.63,25.15) (0.73,25.19) (0.83,25.14) (0.94,25.18) (1.06,25.15) (1.22,25.19)
(-0.05,25.28) (0.18,25.25) (0.33,25.29) (0.46,25.24) (0.58,25.28) (0.70,25.25) (0.83,25.29) (0.98,25.24) (0.05,25.37) (0.28,25.35) (0.45,25.39) (0.62,25.35) (0.80,25.38)
};
\addplot[dots] coordinates {
(0.30,24.12) (0.45,24.11) (0.55,24.12) (0.65,24.11) (0.74,24.12) (0.83,24.11) (0.99,24.12) (1.08,24.11) (1.18,24.12) (1.35,24.11)
(0.22,24.21) (0.37,24.22) (0.49,24.21) (0.59,24.22) (0.68,24.21) (0.76,24.22) (0.84,24.21) (0.92,24.22) (1.08,24.21) (1.17,24.22) (1.33,24.21)
(0.18,24.32) (0.32,24.31) (0.43,24.32) (0.53,24.31) (0.61,24.32) (0.69,24.31) (0.77,24.32) (0.85,24.31) (0.93,24.32) (1.01,24.31) (1.09,24.32) (1.18,24.31) (1.27,24.32)
(0.12,24.42) (0.27,24.41) (0.38,24.42) (0.48,24.41) (0.56,24.42) (0.64,24.41) (0.72,24.42) (0.80,24.41) (0.88,24.42) (0.95,24.41) (1.03,24.42) (1.11,24.41) (1.20,24.42) (1.30,24.41)
(0.05,24.51) (0.21,24.52) (0.33,24.51) (0.42,24.52) (0.51,24.51) (0.59,24.52) (0.67,24.51) (0.75,24.52) (0.82,24.51) (0.90,24.52) (0.97,24.51) (1.05,24.52) (1.13,24.51) (1.22,24.52)
(0.10,24.61) (0.24,24.62) (0.35,24.61) (0.45,24.62) (0.53,24.61) (0.61,24.62) (0.69,24.61) (0.77,24.62) (0.84,24.61) (0.92,24.62) (0.99,24.61) (1.07,24.62) (1.16,24.61)
(0.04,24.71) (0.19,24.72) (0.31,24.71) (0.41,24.72) (0.50,24.71) (0.58,24.72) (0.66,24.71) (0.74,24.72) (0.81,24.71) (0.89,24.72) (0.96,24.71) (1.04,24.72) (1.13,24.71) (1.23,24.72)
(0.09,24.81) (0.23,24.82) (0.33,24.81) (0.42,24.82) (0.50,24.81) (0.58,24.82) (0.66,24.81) (0.74,24.82) (0.81,24.81) (0.89,24.82) (0.97,24.81) (1.06,24.82) (1.16,24.81)
(0.08,24.91) (0.22,24.92) (0.35,24.91) (0.45,24.92) (0.54,24.91) (0.62,24.92) (0.70,24.91) (0.78,24.92) (0.86,24.91) (0.94,24.92) (1.02,24.91) (1.12,24.92)
(0.04,25.01) (0.18,25.02) (0.31,25.01) (0.41,25.02) (0.50,25.01) (0.59,25.02) (0.67,25.01) (0.75,25.02) (0.83,25.01) (0.91,25.02) (1.00,25.01) (1.09,25.02)
(0.14,25.12) (0.26,25.11) (0.38,25.12) (0.48,25.11) (0.57,25.12) (0.66,25.11) (0.74,25.12) (0.83,25.11) (0.92,25.12) (1.02,25.11)
(0.08,25.21) (0.23,25.22) (0.35,25.21) (0.46,25.22) (0.56,25.21) (0.66,25.22) (0.76,25.21) (0.86,25.22)
};
\addplot[dots] coordinates {
(0.95,23.96) (1.10,23.99) (1.25,23.94) (1.41,23.97) (1.55,23.95)
(0.88,24.04) (1.02,24.07) (1.18,24.03) (1.31,24.06) (1.45,24.03) (1.60,24.06)
(0.81,24.14) (0.97,24.17) (1.13,24.13) (1.27,24.16) (1.39,24.13) (1.52,24.17) (1.66,24.13)
(0.75,24.24) (0.90,24.27) (1.05,24.23) (1.20,24.26) (1.33,24.23) (1.45,24.27) (1.57,24.23)
(0.70,24.36) (0.83,24.33) (0.97,24.37) (1.10,24.33) (1.23,24.36) (1.36,24.33) (1.48,24.37)
(0.64,24.46) (0.79,24.43) (0.92,24.47) (1.06,24.43) (1.18,24.46) (1.30,24.43) (1.44,24.46)
(0.72,24.56) (0.87,24.53) (1.00,24.57) (1.12,24.53) (1.24,24.56) (1.37,24.53)
(0.67,24.66) (0.81,24.63) (0.95,24.67) (1.09,24.63) (1.21,24.66) (1.33,24.63)
(0.72,24.76) (0.86,24.73) (0.99,24.77) (1.12,24.73) (1.26,24.76)
(0.63,24.86) (0.79,24.83) (0.93,24.87) (1.07,24.83) (1.20,24.86)
(0.70,24.96) (0.86,24.93) (1.00,24.97) (1.15,24.93)
(0.65,25.06) (0.81,25.03) (0.97,25.07) (1.10,25.03)
};
\isolines
\node[anchor=west, font=\fontsize{20}{20}\selectfont\bfseries] at (axis description cs:0.06,0.92) {32.4\pr{} < R\textsubscript{\fontsize{7}{7}\selectfont ell} < 43.7\pr};
\end{axis}
\end{tikzpicture}
\end{document}
